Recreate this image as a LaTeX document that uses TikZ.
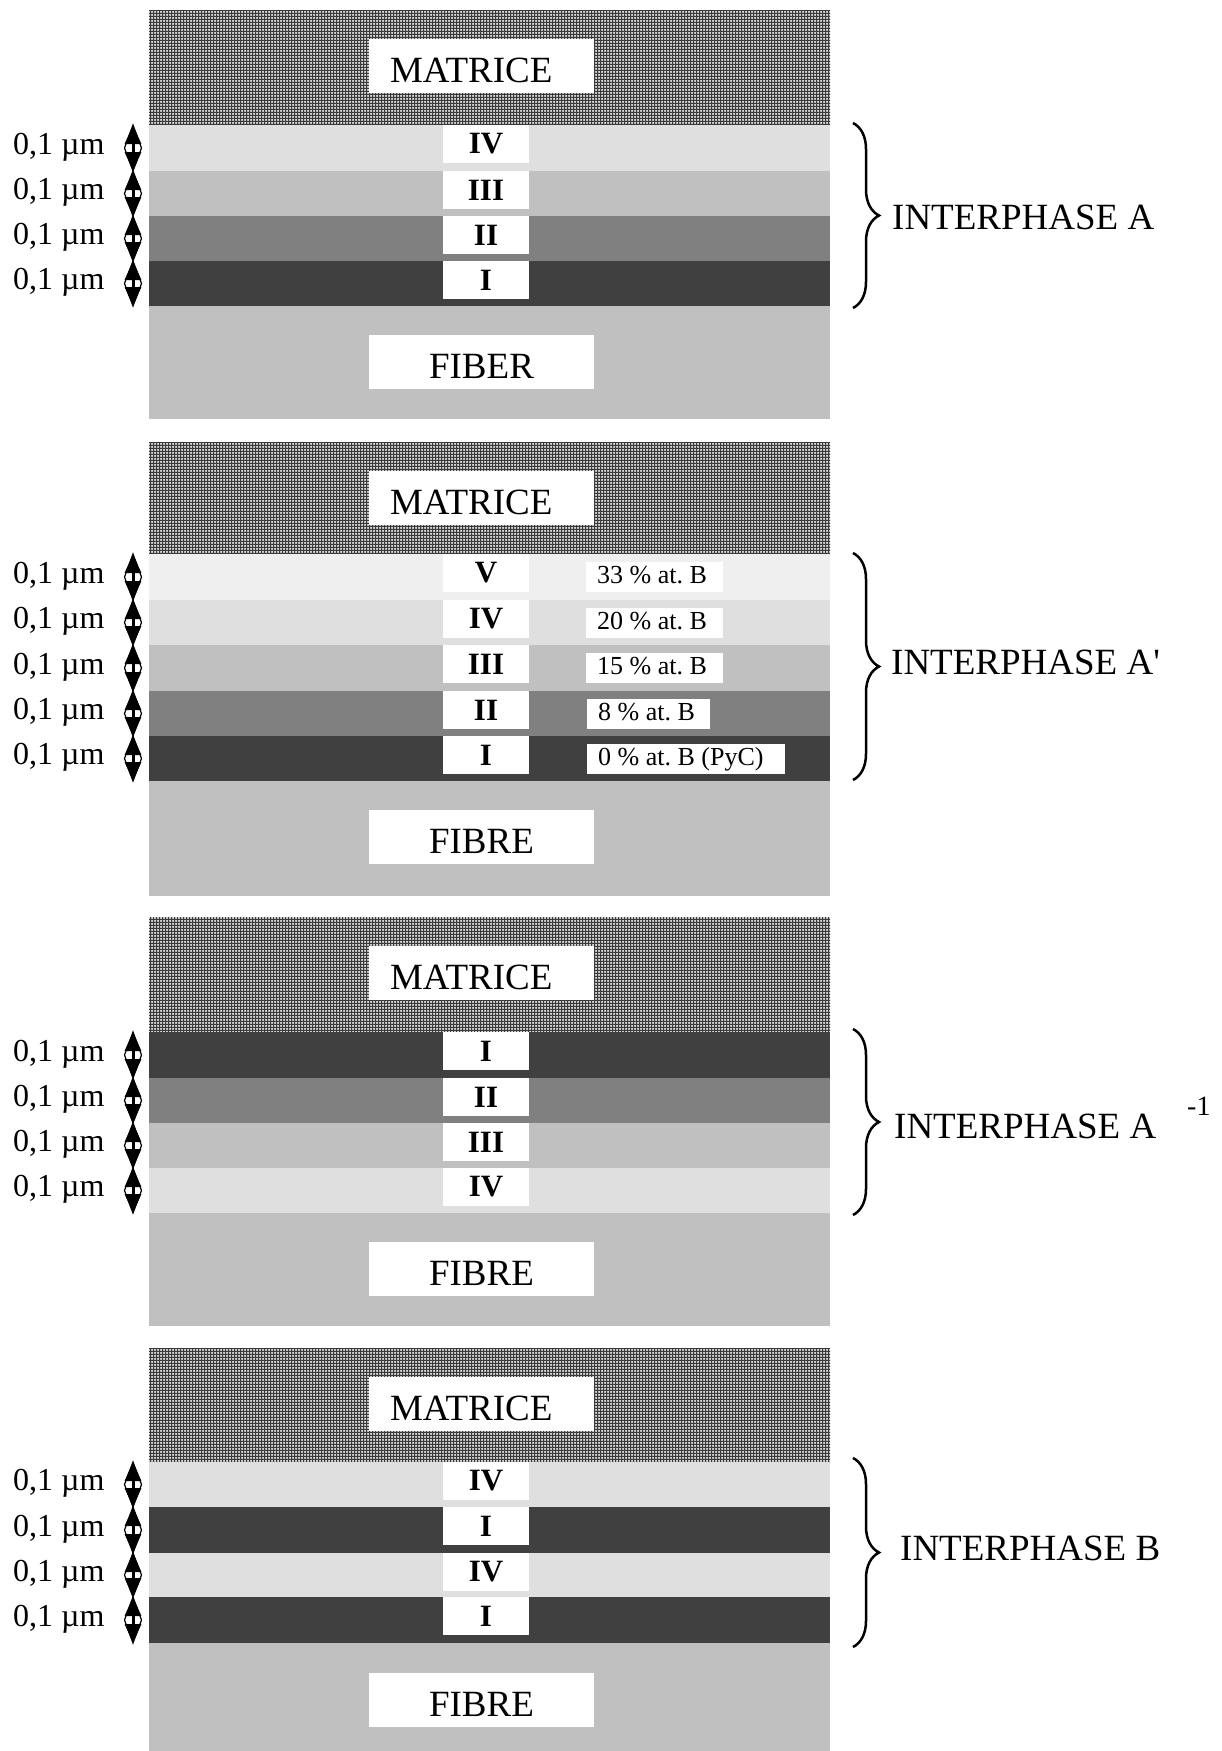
\documentclass[tikz,border=0pt]{standalone}
\usepackage{fontspec}
\setmainfont{Liberation Serif}
\usetikzlibrary{arrows.meta,decorations.pathreplacing,patterns}
\pgfdeclarepatternformonly{mgrid}{\pgfpoint{-0.1pt}{-0.1pt}}{\pgfpoint{3.1pt}{3.1pt}}{\pgfpoint{3pt}{3pt}}{%
  \pgfpathrectangle{\pgfpointorigin}{\pgfpoint{3pt}{1pt}}%
  \pgfpathrectangle{\pgfpointorigin}{\pgfpoint{1pt}{3pt}}%
  \pgfusepath{fill}}
\definecolor{cI}{HTML}{404040}
\definecolor{cII}{HTML}{808080}
\definecolor{cIII}{HTML}{C0C0C0}
\definecolor{cIV}{HTML}{DFDFDF}
\definecolor{cV}{HTML}{EFEFEF}
\definecolor{cFib}{HTML}{C0C0C0}
\definecolor{cMatBG}{HTML}{D8D8D8}
\definecolor{cMatFG}{HTML}{3A3A3A}
\tikzset{
  numbox/.style={fill=white, minimum width=86pt, minimum height=38pt, inner sep=0pt,
    font=\fontsize{31}{31}\selectfont\bfseries},
  bigbox/.style={fill=white, minimum width=225pt, inner sep=0pt, text height=43pt, text depth=11pt,
    font=\fontsize{37}{40}\selectfont},
  pctbox/.style={fill=white, anchor=north west, inner xsep=11pt, inner ysep=0pt,
    text height=21pt, text depth=9pt, font=\fontsize{26}{28}\selectfont},
  umlab/.style={anchor=base west, inner sep=0pt, font=\fontsize{32}{34}\selectfont},
  itxt/.style={anchor=base west, inner sep=0pt, font=\fontsize{37}{40}\selectfont},
  dimarrow/.style={line width=3pt, {Triangle[length=19pt,width=16pt]}-{Triangle[length=19pt,width=16pt]}},
  dimdiamond/.style={fill=white, draw=black, line width=1.2pt},
  bracestyle/.style={line width=2.5pt, decorate, decoration={brace, amplitude=26pt}},
}
\newcommand{\leftin}[2]{\makebox[#1][l]{#2}}
\begin{document}
\begin{tikzpicture}[x=1pt,y=-1pt]
\useasboundingbox (0,0) rectangle (1222,1751);
% matrix and fibre regions
\foreach \mt/\mb in {10/125, 442/554, 917/1032, 1348/1462}{
  \fill[cMatBG] (149,\mt) rectangle (830,\mb);
  \fill[pattern=mgrid, pattern color=cMatFG] (149,\mt) rectangle (830,\mb);
}
\fill[cFib] (149,306) rectangle (830,419);
\fill[cFib] (149,781) rectangle (830,896);
\fill[cFib] (149,1213) rectangle (830,1326);
\fill[cFib] (149,1643) rectangle (830,1751);
% layers
\foreach \p/\t/\b/\c/\n in {
 1/125/171/cIV/IV, 1/171/216/cIII/III, 1/216/261/cII/II, 1/261/306/cI/I,
 2/554/600/cV/V, 2/600/645/cIV/IV, 2/645/691/cIII/III, 2/691/736/cII/II, 2/736/781/cI/I,
 3/1032/1078/cI/I, 3/1078/1123/cII/II, 3/1123/1168/cIII/III, 3/1168/1213/cIV/IV,
 4/1462/1507/cIV/IV, 4/1507/1553/cI/I, 4/1553/1597/cIV/IV, 4/1597/1643/cI/I}{
  \fill[\c] (149,\t) rectangle (830,\b);
  \node[numbox] (num-\p-\t) at (486,\t+19) {\n};
  \node[umlab] (um-\p-\t) at (13,{(\t+\b)/2+6}) {0,1 µm};
  \coordinate (at-\p-\t) at (133,\t);
  \coordinate (ab-\p-\t) at (133,\b);
  \coordinate (ar-\p-\t) at (141.5,{(\t+\b)/2});
  \coordinate (al-\p-\t) at (124.5,{(\t+\b)/2});
  \filldraw[dimdiamond] (at-\p-\t) -- (ar-\p-\t) -- (ab-\p-\t) -- (al-\p-\t) -- cycle;
  \draw[dimarrow] (at-\p-\t) -- (ab-\p-\t);
}
% matrix / fibre labels
\node[bigbox] (mat1) at (481.5,66) {\leftin{225pt}{\hspace*{21pt}MATRICE}};
\node[bigbox] (fib1) at (481.5,362) {FIBER};
\node[bigbox] (mat2) at (481.5,498) {\leftin{225pt}{\hspace*{21pt}MATRICE}};
\node[bigbox] (fib2) at (481.5,837) {FIBRE};
\node[bigbox] (mat3) at (481.5,973) {\leftin{225pt}{\hspace*{21pt}MATRICE}};
\node[bigbox] (fib3) at (481.5,1269) {FIBRE};
\node[bigbox] (mat4) at (481.5,1404) {\leftin{225pt}{\hspace*{21pt}MATRICE}};
\node[bigbox] (fib4) at (481.5,1700) {FIBRE};
% percentage labels
\node[pctbox] (pc5) at (586,562) {\leftin{115pt}{33 \% at.\ B}};
\node[pctbox] (pc4) at (586,608) {\leftin{115pt}{20 \% at.\ B}};
\node[pctbox] (pc3) at (586,653) {\leftin{115pt}{15 \% at.\ B}};
\node[pctbox] (pc2) at (587,699) {\leftin{101pt}{8 \% at.\ B}};
\node[pctbox] (pc1) at (587,744) {\leftin{176pt}{0 \% at.\ B (PyC)}};
% braces
\coordinate (br1t) at (853,123); \coordinate (br1b) at (853,308);
\coordinate (br2t) at (853,553); \coordinate (br2b) at (853,780);
\coordinate (br3t) at (853,1029); \coordinate (br3b) at (853,1215);
\coordinate (br4t) at (853,1458); \coordinate (br4b) at (853,1647);
\draw[bracestyle] (br1t) -- (br1b);
\draw[bracestyle] (br2t) -- (br2b);
\draw[bracestyle] (br3t) -- (br3b);
\draw[bracestyle] (br4t) -- (br4b);
% interphase names
\node[itxt] (ia) at (892,229) {INTERPHASE A};
\node[itxt] (iap) at (891,674) {INTERPHASE A\textquotesingle};
\node[itxt] (iam) at (894,1138) {INTERPHASE A};
\node[anchor=base west, inner sep=0pt, font=\fontsize{28}{30}\selectfont] (exp) at (1187,1115) {-1};
\node[itxt] (ib) at (900,1560) {INTERPHASE B};
\end{tikzpicture}
\end{document}
